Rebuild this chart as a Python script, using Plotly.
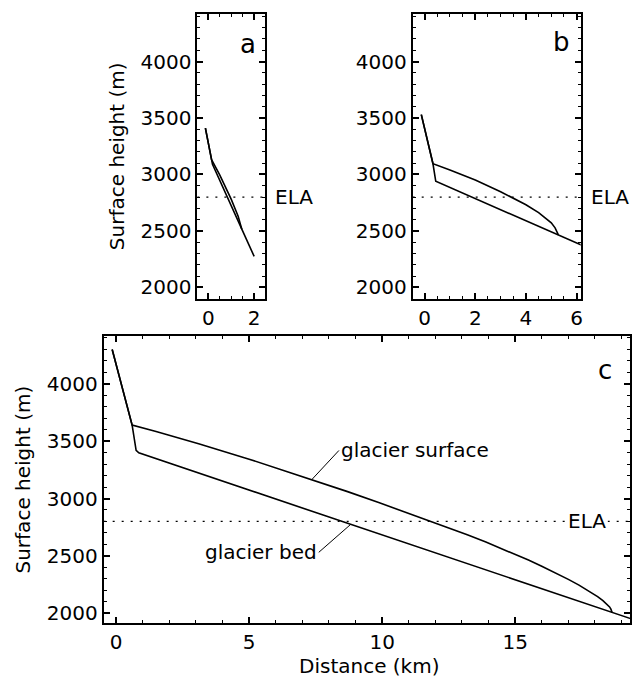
import numpy as np
import plotly.graph_objects as go

# ---------------- data ----------------
ELA = 2800

# panel a
a_bed_x = [-0.13, 0.14, 0.18, 1.46, 2.0]
a_bed_y = [3410, 3131, 3090, 2516, 2275]
a_surf_x = [-0.13, 0.14, 0.5, 1.0, 1.3, 1.42, 1.46]
a_surf_y = [3410, 3131, 2995, 2780, 2630, 2550, 2516]

# panel b
b_bed_x = [-0.13, 0.33, 0.44, 6.2]
b_bed_y = [3530, 3095, 2940, 2375]
b_surf_x = [-0.13, 0.33, 1.0, 2.0, 3.0, 3.44, 4.0, 4.5, 4.8, 5.0, 5.15, 5.25, 5.28]
b_surf_y = [3530, 3095, 3040, 2952, 2848, 2800, 2732, 2662, 2612, 2572, 2528, 2484, 2466]

# panel c
c_bed_x = [-0.15, 0.6, 0.75, 0.85, 19.5]
c_bed_y = [4300, 3640, 3420, 3398, 1940]
c_surf_x = [-0.15, 0.6, 1.5, 3.1, 5.0, 7.4, 8.7, 9.87, 11.85, 12.5, 13.2, 13.9, 14.5,
            15.0, 15.5, 16.0, 16.5, 17.0, 17.4, 17.8, 18.1, 18.3, 18.45, 18.55, 18.6,
            18.63, 18.645]
c_surf_y = [4300, 3640, 3584, 3478, 3343, 3163, 3060, 2965, 2800, 2744, 2683, 2620, 2563,
            2514, 2463, 2410, 2354, 2295, 2245, 2190, 2145, 2110, 2080, 2055, 2035,
            2015, 2006]

y_ticks = [2000, 2500, 3000, 3500, 4000]
a_x_ticks = [0, 2]
b_x_ticks = [0, 2, 4, 6]
c_x_ticks = [0, 5, 10, 15]

FONT = "DejaVu Sans, Liberation Sans, Arial, sans-serif"
W, H = 637, 679

fig = go.Figure()

def add_profile(xs, ys, xa, ya):
    fig.add_trace(go.Scatter(x=xs, y=ys, mode="lines", xaxis=xa, yaxis=ya,
                             line=dict(color="black", width=1.6), showlegend=False,
                             hoverinfo="skip"))

add_profile(a_bed_x, a_bed_y, "x", "y")
add_profile(a_surf_x, a_surf_y, "x", "y")
add_profile(b_bed_x, b_bed_y, "x2", "y2")
add_profile(b_surf_x, b_surf_y, "x2", "y2")
add_profile(c_bed_x, c_bed_y, "x3", "y3")
add_profile(c_surf_x, c_surf_y, "x3", "y3")

def px_x(p):
    return p / W

def px_y(p):
    return 1 - p / H

def axis(domain, rng, ticks, minor, anchor, showlabels=True):
    return dict(domain=domain, range=rng, tickvals=ticks, ticks="inside", ticklen=6,
                tickwidth=1.5, tickcolor="black", showline=True, linewidth=2,
                linecolor="black", mirror="allticks", showgrid=False, zeroline=False,
                anchor=anchor, showticklabels=showlabels,
                tickfont=dict(family=FONT, size=20, color="black"),
                minor=dict(dtick=minor, ticks="inside", ticklen=3, tickwidth=1.2,
                           tickcolor="black", showgrid=False))

ydom_ab = [px_y(300), px_y(14)]
ydom_c = [px_y(625), px_y(337)]

fig.update_layout(
    width=W, height=H, margin=dict(l=0, r=0, t=0, b=0),
    paper_bgcolor="white", plot_bgcolor="white",
    font=dict(family=FONT, size=20, color="black"),
    xaxis=axis([px_x(198), px_x(266)], [-0.48, 2.48], a_x_ticks, 0.5, "y"),
    yaxis=axis(ydom_ab, [1897, 4421], y_ticks, 100, "x"),
    xaxis2=axis([px_x(414), px_x(582.5)], [-0.47, 6.16], b_x_ticks, 0.5, "y2"),
    yaxis2=axis(ydom_ab, [1897, 4421], y_ticks, 100, "x2"),
    xaxis3=axis([px_x(104), px_x(632.3)], [-0.47, 19.33], c_x_ticks, 1, "y3"),
    yaxis3=axis(ydom_c, [1913, 4417], y_ticks, 100, "x3"),
)

dash = "2px,7px"
for xr, yr in [("x", "y"), ("x2", "y2"), ("x3", "y3")]:
    fig.add_shape(type="line", xref=f"{xr} domain", yref=yr, x0=0, x1=1, y0=ELA, y1=ELA,
                  line=dict(color="black", width=1.3, dash=dash), layer="above")

ann = []
# panel letters
ann.append(dict(text="a", x=px_x(249), y=px_y(44), xref="paper", yref="paper",
                showarrow=False, font=dict(size=26), xanchor="center", yanchor="middle"))
ann.append(dict(text="b", x=px_x(563), y=px_y(42), xref="paper", yref="paper",
                showarrow=False, font=dict(size=26), xanchor="center", yanchor="middle"))
ann.append(dict(text="c", x=px_x(607), y=px_y(371), xref="paper", yref="paper",
                showarrow=False, font=dict(size=26), xanchor="center", yanchor="middle"))
# ELA labels
ann.append(dict(text="ELA", x=px_x(274), y=ELA, xref="paper", yref="y",
                showarrow=False, xanchor="left", yanchor="middle", font=dict(size=20)))
ann.append(dict(text="ELA", x=px_x(591), y=ELA, xref="paper", yref="y2",
                showarrow=False, xanchor="left", yanchor="middle", font=dict(size=20)))
ann.append(dict(text="ELA", x=px_x(589), y=ELA, xref="paper", yref="y3",
                showarrow=False, xanchor="center", yanchor="middle", font=dict(size=20),
                bgcolor="white", borderpad=1))
# axis titles
ann.append(dict(text="Surface height (m)", x=px_x(117), y=px_y(157), xref="paper", yref="paper",
                showarrow=False, textangle=-90, xanchor="center", yanchor="middle",
                font=dict(size=20)))
ann.append(dict(text="Surface height (m)", x=px_x(23), y=px_y(481), xref="paper", yref="paper",
                showarrow=False, textangle=-90, xanchor="center", yanchor="middle",
                font=dict(size=20)))
ann.append(dict(text="Distance (km)", x=px_x(370), y=px_y(668), xref="paper", yref="paper",
                showarrow=False, xanchor="center", yanchor="middle", font=dict(size=20)))

# leader-line labels in panel c
sx = 7.36
sy = float(np.interp(sx, c_surf_x, c_surf_y))
ann.append(dict(text="glacier surface", x=sx, y=sy, xref="x3", yref="y3",
                showarrow=True, arrowhead=0, arrowwidth=1, arrowcolor="black",
                ax=27, ay=-29, xanchor="left", yanchor="middle", font=dict(size=20),
                standoff=0))
bx = 8.82
by = float(np.interp(bx, c_bed_x, c_bed_y))
ann.append(dict(text="glacier bed", x=bx, y=by, xref="x3", yref="y3",
                showarrow=True, arrowhead=0, arrowwidth=1, arrowcolor="black",
                ax=-32, ay=28, xanchor="right", yanchor="middle", font=dict(size=20),
                standoff=0))

fig.update_layout(annotations=ann)
fig.write_html("out.html")
